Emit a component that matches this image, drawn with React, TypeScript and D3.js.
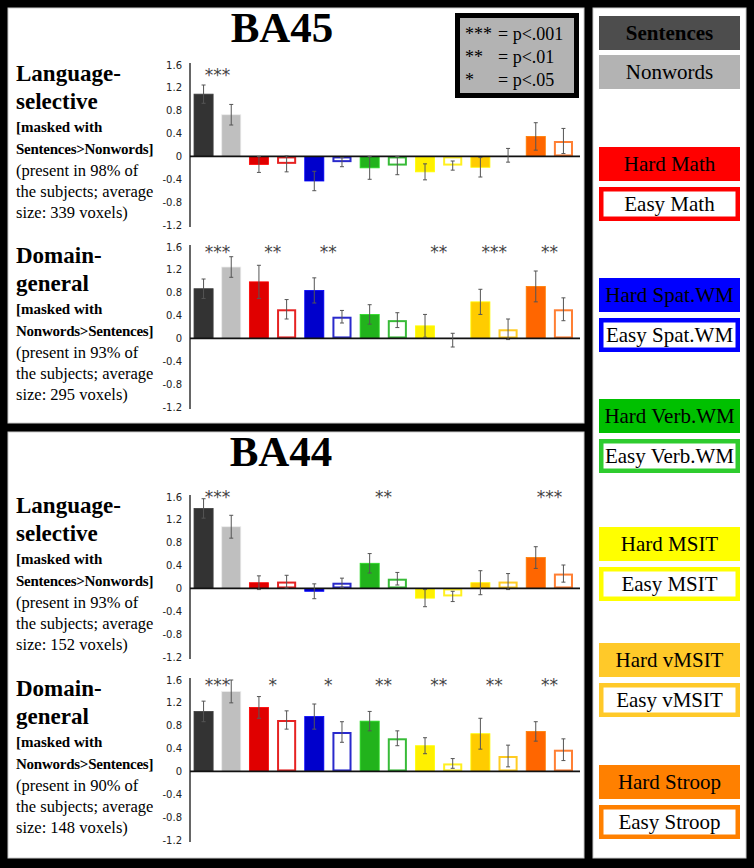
import React from "react";
import * as d3 from "d3";

const categories = [
  "Sentences", "Nonwords", "Hard Math", "Easy Math", "Hard Spat.WM", "Easy Spat.WM",
  "Hard Verb.WM", "Easy Verb.WM", "Hard MSIT", "Easy MSIT", "Hard vMSIT", "Easy vMSIT",
  "Hard Stroop", "Easy Stroop",
];
const barColors = [
  "#333333", "#bfbfbf", "#e00000", "#e62222", "#0000cc", "#2a2acc",
  "#22b31c", "#38bb38", "#fff000", "#fff020", "#ffcc00", "#ffcc22",
  "#ff6600", "#ff7f33",
];
const hollow = [false, false, false, true, false, true, false, true, false, true, false, true, false, true];

const legendColors = [
  "#4d4d4d", "#b3b3b3", "#ff0000", "#ff0000", "#0000ff", "#0000ff",
  "#00c000", "#2ecc2e", "#ffff00", "#ffff00", "#ffc929", "#ffc929",
  "#ff8000", "#ff8000",
];

const yTicks = [1.6, 1.2, 0.8, 0.4, 0, -0.4, -0.8, -1.2];
const yTickLabels = ["1.6", "1.2", "0.8", "0.4", "0", "-0.4", "-0.8", "-1.2"];

const ba45LangMeans = [1.09, 0.73, -0.14, -0.13, -0.43, -0.10, -0.20, -0.16, -0.27, -0.16, -0.19, 0.02, 0.35, 0.27];
const ba45LangErr = [0.16, 0.18, 0.14, 0.14, 0.17, 0.08, 0.20, 0.16, 0.14, 0.08, 0.17, 0.12, 0.24, 0.22];
const ba45LangStars = ["***", "", "", "", "", "", ""];

const ba45DomMeans = [0.87, 1.25, 0.99, 0.51, 0.84, 0.38, 0.42, 0.32, 0.22, -0.03, 0.64, 0.16, 0.91, 0.51];
const ba45DomErr = [0.17, 0.18, 0.29, 0.17, 0.22, 0.11, 0.17, 0.13, 0.20, 0.12, 0.22, 0.18, 0.27, 0.20];
const ba45DomStars = ["***", "**", "**", "", "**", "***", "**"];

const ba44LangMeans = [1.40, 1.08, 0.10, 0.12, -0.05, 0.10, 0.44, 0.17, -0.17, -0.14, 0.10, 0.12, 0.54, 0.26];
const ba44LangErr = [0.17, 0.20, 0.12, 0.11, 0.13, 0.08, 0.17, 0.11, 0.15, 0.09, 0.21, 0.14, 0.19, 0.15];
const ba44LangStars = ["***", "", "", "**", "", "", "***"];

const ba44DomMeans = [1.05, 1.40, 1.12, 0.90, 0.96, 0.69, 0.88, 0.58, 0.45, 0.14, 0.66, 0.27, 0.70, 0.38];
const ba44DomErr = [0.18, 0.20, 0.19, 0.16, 0.22, 0.18, 0.17, 0.13, 0.14, 0.085, 0.27, 0.19, 0.17, 0.19];
const ba44DomStars = ["***", "*", "*", "**", "**", "**", "**"];

const sigLines = [["***", "= p<.001"], ["**", "= p<.01"], ["*", "= p<.05"]];

const langLabel = (pct: string, vox: string) => [
  "Language-", "selective", "[masked with", "Sentences>Nonwords]",
  `(present in ${pct}% of`, "the subjects; average", `size: ${vox} voxels)`,
];
const domLabel = (pct: string, vox: string) => [
  "Domain-", "general", "[masked with", "Nonwords>Sentences]",
  `(present in ${pct}% of`, "the subjects; average", `size: ${vox} voxels)`,
];

const SERIF = "'Liberation Serif', 'Times New Roman', serif";
const SANS = "'DejaVu Sans', Verdana, sans-serif";

const xScale = d3.scaleBand<string>().domain(categories).range([190, 577]).paddingInner(0.31).paddingOuter(0.145);

type PanelProps = { top: number; means: number[]; errs: number[]; stars: string[]; label: string[]; starDy: number };

function Panel({ top, means, errs, stars, label, starDy }: PanelProps) {
  const y = d3.scaleLinear().domain([-1.2, 1.6]).range([top + 160, top]);
  const bw = xScale.bandwidth();
  const lineYs = [16, 44, 67, 89, 111, 132, 153];
  return (
    <g>
      {label.map((t, i) => (
        <text
          key={i}
          x={16}
          y={top + lineYs[i]}
          fontFamily={SERIF}
          fontWeight={i < 4 ? "bold" : "normal"}
          fontSize={i < 2 ? 23 : i < 4 ? 15 : 16.5}
          letterSpacing={i === 3 ? -0.25 : 0}
          fill="#000"
        >
          {t}
        </text>
      ))}
      {yTicks.map((v, i) => (
        <text key={v} x={182} y={y(v)} dy="0.35em" textAnchor="end" fontFamily={SANS} fontSize={10} fill="#222">
          {yTickLabels[i]}
        </text>
      ))}
      <line x1={190} x2={190} y1={y(1.6) - 2} y2={y(-1.2) + 2} stroke="#666" strokeWidth={2} />
      {categories.map((c, i) => {
        const v = means[i];
        const x0 = xScale(c)!;
        const yTop = y(Math.max(0, v));
        const h = Math.abs(y(v) - y(0));
        return hollow[i] ? (
          <rect key={c} x={x0 + 1} y={yTop + 1} width={bw - 2} height={Math.max(0, h - 2)} fill="#fff" stroke={barColors[i]} strokeWidth={2} />
        ) : (
          <rect key={c} x={x0} y={yTop} width={bw} height={h} fill={barColors[i]} stroke={d3.color(barColors[i])!.brighter(0.6).formatHex()} strokeWidth={0.8} />
        );
      })}
      <line x1={190} x2={580} y1={y(0)} y2={y(0)} stroke="#111" strokeWidth={1.8} />
      {categories.map((c, i) => {
        const cx = xScale(c)! + bw / 2;
        const y1 = y(means[i] + errs[i]);
        const y2 = y(means[i] - errs[i]);
        return (
          <g key={c} stroke="#555" strokeWidth={1}>
            <line x1={cx} x2={cx} y1={y1} y2={y2} />
            <line x1={cx - 2} x2={cx + 2} y1={y1} y2={y1} />
            <line x1={cx - 2} x2={cx + 2} y1={y2} y2={y2} />
          </g>
        );
      })}
      {stars.map((s, k) => {
        if (!s) return null;
        const a = xScale(categories[2 * k])! + bw / 2;
        const b = xScale(categories[2 * k + 1])! + bw / 2;
        return (
          <text key={k} x={(a + b) / 2} y={y(1.6) + 11 + starDy} textAnchor="middle" fontFamily={SANS} fontSize={17} fill="#444">
            {s}
          </text>
        );
      })}
    </g>
  );
}

const legendGroupTops = [147, 278, 399, 527, 643, 765];

function Legend() {
  const x = 599;
  const w = 141;
  const h = 34;
  const tops: number[] = [16, 55];
  legendGroupTops.forEach((t) => {
    tops.push(t, t + 40);
  });
  return (
    <g>
      {categories.map((c, i) => {
        const t = tops[i];
        const isHollow = hollow[i];
        return (
          <g key={c}>
            {isHollow ? (
              <rect x={x + 2.25} y={t + 2.25} width={w - 4.5} height={h - 4.5} fill="#fff" stroke={legendColors[i]} strokeWidth={4.5} />
            ) : (
              <rect x={x} y={t} width={w} height={h} fill={legendColors[i]} />
            )}
            <text
              x={x + w / 2}
              y={t + 24}
              textAnchor="middle"
              fontFamily={SERIF}
              fontSize={21}
              fontWeight={i === 0 ? "bold" : "normal"}
              fill="#000"
            >
              {c}
            </text>
          </g>
        );
      })}
    </g>
  );
}

export default function App() {
  return (
    <div style={{ position: "absolute", left: 0, top: 0 }}>
      <svg width={754} height={868} style={{ display: "block" }}>
        <rect x={0} y={0} width={754} height={868} fill="#000" />
        <rect x={8} y={8} width={576} height={415} fill="#fff" stroke="#ccc" strokeWidth={1} />
        <rect x={8} y={432} width={576} height={426} fill="#fff" stroke="#ccc" strokeWidth={1} />
        <rect x={593} y={8} width={153} height={850} fill="#fff" stroke="#ccc" strokeWidth={1} />

        <text x={282} y={42} textAnchor="middle" fontFamily={SERIF} fontWeight="bold" fontSize={43}>BA45</text>
        <text x={281} y={466} textAnchor="middle" fontFamily={SERIF} fontWeight="bold" fontSize={43}>BA44</text>

        <rect x={457.5} y={15.5} width={119} height={80} fill="#b3b3b3" stroke="#000" strokeWidth={5} />
        {sigLines.map((l, i) => (
          <g key={i} fontFamily={SERIF} fontSize={18} fill="#000">
            <text x={465} y={40 + i * 23}>{l[0]}</text>
            <text x={498} y={40 + i * 23}>{l[1]}</text>
          </g>
        ))}

        <Panel top={65} means={ba45LangMeans} errs={ba45LangErr} stars={ba45LangStars} label={langLabel("98", "339")} starDy={5} />
        <Panel top={247} means={ba45DomMeans} errs={ba45DomErr} stars={ba45DomStars} label={domLabel("93", "295")} starDy={0} />
        <Panel top={497} means={ba44LangMeans} errs={ba44LangErr} stars={ba44LangStars} label={langLabel("93", "152")} starDy={-5} />
        <Panel top={680} means={ba44DomMeans} errs={ba44DomErr} stars={ba44DomStars} label={domLabel("90", "148")} starDy={0} />

        <Legend />
      </svg>
    </div>
  );
}
